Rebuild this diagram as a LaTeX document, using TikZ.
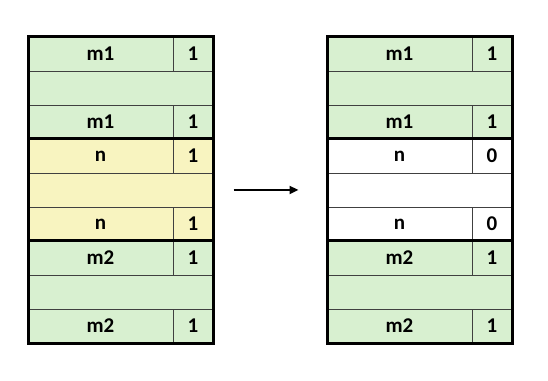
\documentclass[tikz,border=0pt]{standalone}
\usepackage{fontspec}
\setmainfont{Carlito}
\usetikzlibrary{arrows.meta}
\definecolor{cellgreen}{RGB}{216,240,208}
\definecolor{cellyellow}{RGB}{248,244,192}
\begin{document}
\begin{tikzpicture}[x=1pt,y=1pt]
\path[use as bounding box] (0,0) rectangle (548,380);
\tikzstyle{tag}=[draw=black!75, line width=0.9pt, inner sep=0pt, minimum width=145pt, minimum height=34pt, font=\bfseries\fontsize{21}{21}\selectfont]
\tikzstyle{bit}=[tag, minimum width=40pt]
\tikzstyle{gap}=[tag, minimum width=185pt]
\tikzstyle{group}=[draw=black, line width=3pt, inner sep=0pt, minimum width=185pt, minimum height=102pt]

% cache before
\node[tag, fill=cellgreen] (l1tag) at (100.5,326) {m1};
\node[bit, fill=cellgreen] (l1bit) at (193,326) {1};
\node[gap, fill=cellgreen] (l2gap) at (120.5,292) {};
\node[tag, fill=cellgreen] (l3tag) at (100.5,258) {m1};
\node[bit, fill=cellgreen] (l3bit) at (193,258) {1};

\node[tag, fill=cellyellow] (l4tag) at (100.5,224) {n};
\node[bit, fill=cellyellow] (l4bit) at (193,224) {1};
\node[gap, fill=cellyellow] (l5gap) at (120.5,190) {};
\node[tag, fill=cellyellow] (l6tag) at (100.5,156) {n};
\node[bit, fill=cellyellow] (l6bit) at (193,156) {1};

\node[tag, fill=cellgreen] (l7tag) at (100.5,122) {m2};
\node[bit, fill=cellgreen] (l7bit) at (193,122) {1};
\node[gap, fill=cellgreen] (l8gap) at (120.5,88) {};
\node[tag, fill=cellgreen] (l9tag) at (100.5,54) {m2};
\node[bit, fill=cellgreen] (l9bit) at (193,54) {1};

\node[group] (lgrp1) at (120.5,292) {};
\node[group] (lgrp2) at (120.5,190) {};
\node[group] (lgrp3) at (120.5,88) {};

% cache after
\node[tag, fill=cellgreen] (r1tag) at (399.5,326) {m1};
\node[bit, fill=cellgreen] (r1bit) at (492,326) {1};
\node[gap, fill=cellgreen] (r2gap) at (419.5,292) {};
\node[tag, fill=cellgreen] (r3tag) at (399.5,258) {m1};
\node[bit, fill=cellgreen] (r3bit) at (492,258) {1};

\node[tag, fill=white] (r4tag) at (399.5,224) {n};
\node[bit, fill=white] (r4bit) at (492,224) {0};
\node[gap, fill=white] (r5gap) at (419.5,190) {};
\node[tag, fill=white] (r6tag) at (399.5,156) {n};
\node[bit, fill=white] (r6bit) at (492,156) {0};

\node[tag, fill=cellgreen] (r7tag) at (399.5,122) {m2};
\node[bit, fill=cellgreen] (r7bit) at (492,122) {1};
\node[gap, fill=cellgreen] (r8gap) at (419.5,88) {};
\node[tag, fill=cellgreen] (r9tag) at (399.5,54) {m2};
\node[bit, fill=cellgreen] (r9bit) at (492,54) {1};

\node[group] (rgrp1) at (419.5,292) {};
\node[group] (rgrp2) at (419.5,190) {};
\node[group] (rgrp3) at (419.5,88) {};

\draw[-{Triangle[length=9pt, width=8pt]}, line width=2.6pt, shorten <=19pt, shorten >=27pt] (lgrp2) -- (rgrp2);
\end{tikzpicture}
\end{document}
